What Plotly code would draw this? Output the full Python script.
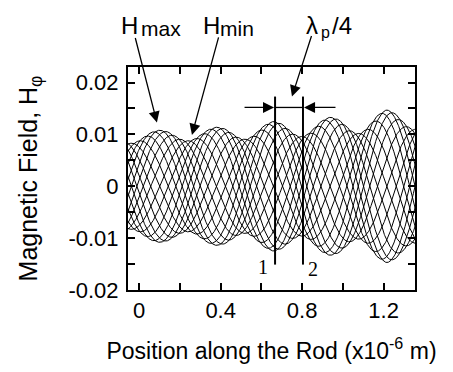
import numpy as np
import plotly.graph_objects as go

# ---- data ----
# positions (x10^-6 m) and heights of the envelope maxima (H_max) and minima (H_min)
peak_x = [0.10, 0.385, 0.665, 0.94, 1.215]
peak_h = [0.0108, 0.0114, 0.0125, 0.0133, 0.0147]
trough_x = [-0.04, 0.25, 0.53, 0.80, 1.08, 1.36]
trough_h = [0.0083, 0.0088, 0.0091, 0.0096, 0.0102, 0.0110]
wavelength = 0.5575          # lambda_p (x10^-6 m), twice the envelope period
n_phases = 16                # number of time snapshots drawn

x_ticks = [0, 0.4, 0.8, 1.2]
x_ticktext = ["0", "0.4", "0.8", "1.2"]
y_ticks = [-0.02, -0.01, 0, 0.01, 0.02]
y_ticktext = ["-0.02", "-0.01", "0", "0.01", "0.02"]

# ---- build curves ----
x = np.linspace(-0.06, 1.36, 700)
hmax = np.interp(x, peak_x, peak_h)
hmin = np.interp(x, trough_x, trough_h)
A = (hmax + hmin) / 2
B = (hmax - hmin) / 2
k = 2 * np.pi / wavelength
x0 = peak_x[0]

fig = go.Figure()
for j in range(n_phases):
    ph = 2 * np.pi * j / n_phases
    y = A * np.cos(k * (x - x0) - ph) + B * np.cos(k * (x - x0) + ph)
    fig.add_trace(go.Scatter(x=x, y=y, mode="lines",
                             line=dict(color="black", width=1),
                             showlegend=False, hoverinfo="skip"))

FONT = "Liberation Sans, Arial, sans-serif"
L, R, T, Bm = 128, 38, 67, 79
W, H = 453, 372
pw, ph_ = W - L - R, H - T - Bm


def px(xp):
    return (xp - L) / pw


def py(yp):
    return (H - Bm - yp) / ph_


annots = []


def txt(s, xp, yp, size, family=FONT):
    annots.append(dict(text=s, x=px(xp), y=py(yp), xref="paper", yref="paper",
                       showarrow=False, xanchor="center", yanchor="middle",
                       font=dict(family=family, size=size, color="black")))


def arrow(xd, yd, ax, ay):
    annots.append(dict(text="", x=xd, y=yd, xref="x", yref="y", ax=ax, ay=ay,
                       showarrow=True, arrowhead=2, arrowsize=1.7,
                       arrowwidth=1.3, arrowcolor="black"))


txt("H", 129, 25, 24)
txt("max", 161, 28, 21)
txt("H", 211, 25, 24)
txt("min", 237, 28, 21)
txt("λ", 312, 25, 24)
txt("p", 325, 32, 16)
txt("/4", 342, 25, 24)
txt("1", 263, 270, 20, "Liberation Serif, Times New Roman, serif")
txt("2", 313, 272, 20, "Liberation Serif, Times New Roman, serif")

arrow(0.087, 0.0123, -22, -86)
arrow(0.259, 0.0099, 27, -99)
arrow(0.750, 0.0173, 20, -62)
arrow(0.662, 0.0152, -31, 0)
arrow(0.809, 0.0152, 33, 0)

shapes = [
    dict(type="line", x0=0.667, x1=0.667, y0=-0.0151, y1=0.0173, xref="x", yref="y",
         line=dict(color="black", width=2)),
    dict(type="line", x0=0.804, x1=0.804, y0=-0.0151, y1=0.0173, xref="x", yref="y",
         line=dict(color="black", width=2)),
    dict(type="line", x0=0.667, x1=0.804, y0=0.0152, y1=0.0152, xref="x", yref="y",
         line=dict(color="black", width=1.3)),
]

axis_common = dict(showline=True, linecolor="black", linewidth=2, mirror="allticks",
                   ticks="inside", ticklen=7, tickwidth=1.5, tickcolor="black",
                   showgrid=False, zeroline=False)

fig.update_layout(
    width=W, height=H, margin=dict(l=L, r=R, t=T, b=Bm),
    paper_bgcolor="white", plot_bgcolor="white",
    xaxis=dict(range=[-0.055, 1.354], tickvals=x_ticks, ticktext=x_ticktext,
               minor=dict(dtick=0.2, tick0=0, ticks="inside", ticklen=7,
                          tickwidth=1.5, tickcolor="black"),
               ticklabelstandoff=0,
               tickfont=dict(family=FONT, size=22, color="black"),
               title=dict(text="Position along the Rod (x10<sup>-6</sup> m)",
                          font=dict(family=FONT, size=23, color="black"),
                          standoff=20),
               **axis_common),
    yaxis=dict(range=[-0.02, 0.023], tickvals=y_ticks, ticktext=y_ticktext,
               minor=dict(dtick=0.005, tick0=0, ticks="inside", ticklen=7,
                          tickwidth=1.5, tickcolor="black"),
               ticklabelstandoff=3,
               tickfont=dict(family=FONT, size=22, color="black"),
               title=dict(text="Magnetic Field, H<sub>φ</sub>",
                          font=dict(family=FONT, size=25, color="black"),
                          standoff=24),
               **axis_common),
    annotations=annots, shapes=shapes,
)

fig.write_html("out.html")
